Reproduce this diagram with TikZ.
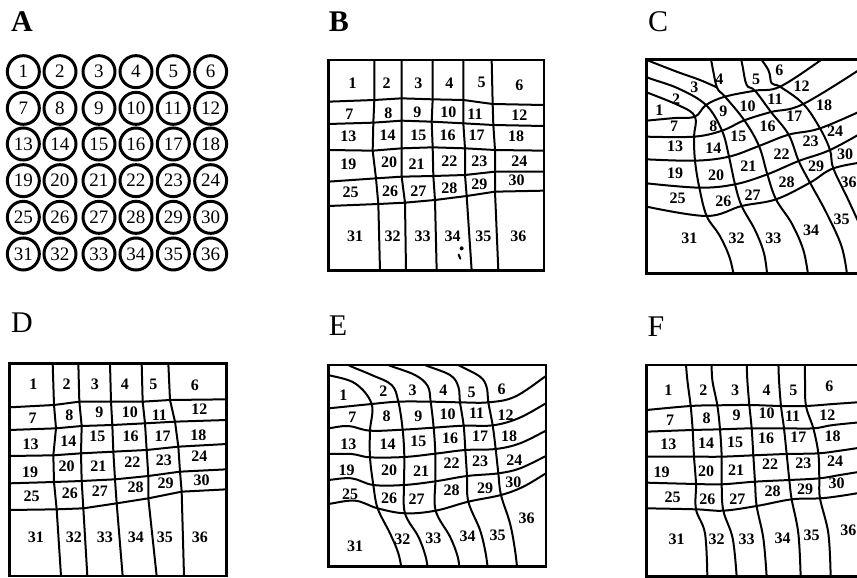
\documentclass[tikz,border=0pt]{standalone}
\usepackage{fontspec}
\setmainfont{Liberation Serif}
\tikzset{
  wall/.style={line width=2pt, line join=round, line cap=round},
  panelframe/.style={line width=2.6pt},
  num/.style={font=\fontsize{16}{16}\selectfont\bfseries, inner sep=0pt},
  ring/.style={circle, draw, line width=3pt, minimum size=32pt, inner sep=0pt,
    font=\fontsize{19}{19}\selectfont},
  panelname/.style={font=\fontsize{30}{30}\selectfont, inner sep=0pt}
}
\begin{document}
\begin{tikzpicture}[x=1pt,y=-1pt]
\useasboundingbox (0,0) rectangle (857,578);
% panel letters
\node[panelname] (pa) at (22,22) {\bfseries A};
\node[panelname] (pb) at (339,22) {\bfseries B};
\node[panelname] (pc) at (658,22) {C};
\node[panelname] (pd) at (22,323) {D};
\node[panelname] (pe) at (338,326) {E};
\node[panelname] (pf) at (656,327) {F};

% A: the circles
\begin{scope}[scale=1/3]
\foreach \py [count=\r from 0] in {215,325,432,542,652,762}
  \foreach \px [count=\c] in {70,180,297,408,520,632} {
    \pgfmathtruncatemacro\n{6*\r+\c}
    \node[ring] (a\n) at (\px,\py) {\n};
  }
\end{scope}

% B
\begin{scope}[shift={(320,0)},scale=1/3]
\draw[wall] (25,305)--(163,300)--(245,295)--(338,298)--(430,300)--(518,312)--(672,315);
\draw[wall] (25,372)--(160,368)--(245,362)--(335,365)--(430,370)--(520,375)--(672,378);
\draw[wall] (25,450)--(158,452)--(245,445)--(338,442)--(435,445)--(525,450)--(672,452);
\draw[wall] (25,545)--(168,535)--(245,530)--(340,528)--(435,525)--(525,515)--(672,515);
\draw[wall] (25,618)--(175,612)--(255,608)--(345,600)--(440,588)--(525,575)--(672,572);
\draw[wall] (163,180)--(163,300)--(160,368)--(158,452)--(168,535)--(175,612)--(180,812);
\draw[wall] (245,180)--(245,295)--(245,362)--(245,445)--(245,530)--(255,608)--(258,812);
\draw[wall] (338,180)--(338,298)--(335,365)--(338,442)--(340,528)--(345,600)--(350,812);
\draw[wall] (430,180)--(430,300)--(430,370)--(435,445)--(435,525)--(440,588)--(455,812);
\draw[wall] (515,180)--(518,312)--(520,375)--(525,450)--(525,515)--(525,575)--(535,812);
\draw[panelframe] (25,180) rectangle (672,812);
\fill (425,745) circle (6);
\draw[wall] (416,764)--(421,776);
\foreach \px/\py [count=\n] in {98/250,200/250,295/250,388/250,485/248,598/255,
    88/343,205/340,292/338,385/338,465/342,598/345,
    85/408,203/405,295/407,383/407,470/405,588/408,
    85/492,207/488,290/492,388/485,478/485,598/485,
    92/578,210/575,295/575,388/565,478/553,590/542,
    105/708,218/708,308/708,398/708,490/708,595/708}
  \node[num] (b\n) at (\px,\py) {\n};
\end{scope}

% C
\begin{scope}[shift={(600,0)},scale=1/3]
\begin{scope}
\clip (140,178) rectangle (800,820);
\draw[wall] plot[smooth,tension=0.6] coordinates {(140,362) (225,354) (285,350) (318,315) (375,290) (465,272) (540,260) (666,178) (690,158)};
\draw[wall] plot[smooth,tension=0.6] coordinates {(140,410) (282,410) (366,392) (433,361) (513,336) (610,312) (800,195)};
\draw[wall] plot[smooth,tension=0.6] coordinates {(140,478) (285,482) (387,470) (477,438) (566,404) (660,385) (800,325)};
\draw[wall] plot[smooth,tension=0.6] coordinates {(140,550) (298,563) (405,553) (502,523) (596,483) (690,450) (800,390)};
\draw[wall] plot[smooth,tension=0.6] coordinates {(140,620) (320,648) (425,618) (528,598) (630,548) (700,505) (800,485)};
\draw[wall] plot[smooth,tension=0.6] coordinates {(100,262) (234,315) (285,350) (282,410) (285,482) (298,563) (320,648) (358,705) (388,770) (402,830)};
\draw[wall] plot[smooth,tension=0.6] coordinates {(110,212) (144,233) (234,265) (318,315) (366,392) (387,470) (405,553) (425,618) (465,690) (492,760) (502,830)};
\draw[wall] plot[smooth,tension=0.6] coordinates {(330,160) (340,215) (352,265) (375,290) (433,361) (477,438) (502,523) (528,598) (575,670) (610,750) (625,830)};
\draw[wall] plot[smooth,tension=0.6] coordinates {(420,160) (428,200) (440,255) (465,272) (513,336) (566,404) (596,483) (630,548) (680,640) (725,740) (742,830)};
\draw[wall] plot[smooth,tension=0.6] coordinates {(470,160) (505,210) (515,250) (540,260) (610,312) (660,385) (690,450) (700,505) (745,600) (790,700) (820,780)};
\draw[wall] plot[smooth,tension=0.6] coordinates {(140,180) (230,215) (300,240) (350,262)};
\end{scope}
\draw[panelframe] (140,178) rectangle (800,820);
\foreach \px/\py [count=\n] in {178/330,228/298,283/262,358/238,468/238,538/212,
    222/378,340/378,370/335,443/318,525/298,605/258,
    225/440,340/445,415/410,503/380,583/350,672/315,
    225/520,348/525,445/498,545/462,632/425,705/395,
    233/595,370/605,458/585,560/548,648/498,735/462,
    268/715,410/715,520/715,633/690,725/658,746/548}
  \node[num] (c\n) at (\px,\py) {\n};
\end{scope}

% D
\begin{scope}[shift={(0,300)},scale=1/3]
\draw[wall] (28,322)--(162,315)--(238,305)--(333,305)--(428,305)--(510,300)--(680,298);
\draw[wall] (28,390)--(168,385)--(245,378)--(337,375)--(435,370)--(525,365)--(680,360);
\draw[wall] (28,468)--(160,466)--(243,460)--(340,455)--(440,450)--(535,440)--(680,432);
\draw[wall] (28,550)--(162,546)--(245,543)--(345,538)--(445,528)--(540,515)--(680,508);
\draw[wall] (28,630)--(170,628)--(250,625)--(350,610)--(445,595)--(545,575)--(680,568);
\draw[wall] (158,190)--(162,315)--(168,385)--(160,466)--(162,546)--(170,628)--(183,828);
\draw[wall] (235,190)--(238,305)--(245,378)--(243,460)--(245,543)--(250,625)--(262,828);
\draw[wall] (330,190)--(333,305)--(337,375)--(340,455)--(345,538)--(350,610)--(368,828);
\draw[wall] (425,190)--(428,305)--(435,370)--(440,450)--(445,528)--(445,595)--(470,828);
\draw[wall] (505,190)--(510,300)--(525,365)--(535,440)--(540,515)--(545,575)--(552,828);
\draw[panelframe] (28,190) rectangle (680,828);
\foreach \px/\py [count=\n] in {100/252,200/252,285/252,375/252,460/252,585/255,
    98/355,208/345,298/338,390/338,478/345,598/328,
    92/432,205/425,292/410,392/408,488/410,595/405,
    90/518,200/500,295/498,397/488,492/480,598/468,
    95/590,210/580,300/575,407/562,497/550,605/542,
    108/712,222/712,315/712,408/712,495/712,600/712}
  \node[num] (d\n) at (\px,\py) {\n};
\end{scope}

% E
\begin{scope}[shift={(315,300)},scale=1/3]
\begin{scope}
\clip (40,195) rectangle (693,800);
\draw[wall] plot[smooth,tension=0.6] coordinates {(20,326) (40,325) (110,318) (170,312) (250,305) (347,305) (435,307) (520,307) (600,290) (693,228) (720,210)};
\draw[wall] plot[smooth,tension=0.6] coordinates {(20,386) (40,385) (100,378) (165,392) (263,389) (356,383) (446,377) (533,376) (610,355) (693,310) (720,295)};
\draw[wall] plot[smooth,tension=0.6] coordinates {(20,462) (40,462) (110,462) (165,472) (268,471) (361,461) (451,450) (542,447) (615,430) (693,392) (720,380)};
\draw[wall] plot[smooth,tension=0.6] coordinates {(20,541) (40,540) (110,535) (175,555) (267,555) (361,544) (456,528) (550,520) (615,505) (693,468) (720,455)};
\draw[wall] plot[smooth,tension=0.6] coordinates {(20,613) (40,612) (120,602) (188,625) (270,640) (362,632) (460,605) (558,585) (625,560) (693,520) (720,505)};
\draw[wall] plot[smooth,tension=0.6] coordinates {(20,218) (40,225) (120,250) (170,312) (165,392) (165,472) (175,555) (188,625) (225,700) (250,760) (262,820)};
\draw[wall] plot[smooth,tension=0.6] coordinates {(90,180) (100,195) (170,225) (230,255) (250,305) (263,389) (268,471) (267,555) (270,640) (310,710) (332,770) (340,820)};
\draw[wall] plot[smooth,tension=0.6] coordinates {(200,180) (220,195) (300,225) (338,258) (347,305) (356,383) (361,461) (361,544) (362,632) (405,710) (428,770) (435,820)};
\draw[wall] plot[smooth,tension=0.6] coordinates {(310,180) (330,195) (405,225) (430,260) (435,307) (446,377) (451,450) (456,528) (460,605) (495,690) (512,760) (520,820)};
\draw[wall] plot[smooth,tension=0.6] coordinates {(410,180) (430,195) (495,230) (515,262) (520,307) (533,376) (542,447) (550,520) (558,585) (585,670) (600,750) (608,820)};
\end{scope}
\draw[panelframe] (40,195) rectangle (693,800);
\foreach \px/\py [count=\n] in {85/285,205/275,293/272,385/270,470/278,560/268,
    112/352,215/348,310/350,398/342,485/340,572/345,
    100/432,218/432,310/425,405/415,495/410,582/410,
    95/510,222/512,318/515,410/490,495/485,598/482,
    105/582,222/595,305/598,410/572,510/565,595/548,
    120/740,262/718,355/715,458/710,548/705,635/655}
  \node[num] (e\n) at (\px,\py) {\n};
\end{scope}

% F
\begin{scope}[shift={(600,300)},scale=1/3]
\begin{scope}
\clip (140,195) rectangle (800,830);
\draw[wall] plot[smooth,tension=0.6] coordinates {(140,330) (272,318) (352,316) (448,315) (543,318) (618,318) (700,312) (800,305)};
\draw[wall] plot[smooth,tension=0.6] coordinates {(140,395) (278,390) (360,388) (455,385) (552,385) (640,385) (700,375) (800,365)};
\draw[wall] plot[smooth,tension=0.6] coordinates {(140,470) (282,470) (365,470) (460,466) (560,462) (655,460) (720,452) (800,440)};
\draw[wall] plot[smooth,tension=0.6] coordinates {(140,548) (288,552) (365,553) (465,545) (568,540) (658,535) (720,525) (800,512)};
\draw[wall] plot[smooth,tension=0.6] coordinates {(140,625) (288,628) (370,632) (470,618) (575,598) (660,595) (720,588) (800,575)};
\draw[wall] plot[smooth,tension=0.6] coordinates {(257,180) (262,240) (272,318) (278,390) (282,470) (288,552) (288,628) (315,700) (322,830)};
\draw[wall] plot[smooth,tension=0.6] coordinates {(335,180) (337,240) (352,316) (360,388) (365,470) (365,553) (370,632) (398,715) (410,830)};
\draw[wall] plot[smooth,tension=0.6] coordinates {(440,180) (442,240) (448,315) (455,385) (460,466) (465,545) (470,618) (490,715) (500,830)};
\draw[wall] plot[smooth,tension=0.6] coordinates {(535,180) (537,240) (543,318) (552,385) (560,462) (568,540) (575,598) (595,700) (602,830)};
\draw[wall] plot[smooth,tension=0.6] coordinates {(615,180) (615,240) (618,318) (640,385) (655,460) (658,535) (660,595) (685,700) (692,830)};
\end{scope}
\draw[panelframe] (140,195) rectangle (800,830);
\foreach \px/\py [count=\n] in {205/272,310/272,405/270,500/272,580/270,688/258,
    210/360,320/355,410/345,500/340,578/350,682/345,
    205/432,318/430,405/428,498/415,595/412,698/410,
    185/518,318/515,408/512,510/492,610/490,705/485,
    218/592,322/598,412/598,518/575,615/568,710/550,
    230/718,350/718,440/718,548/715,635/705,745/690}
  \node[num] (f\n) at (\px,\py) {\n};
\end{scope}
\end{tikzpicture}
\end{document}
